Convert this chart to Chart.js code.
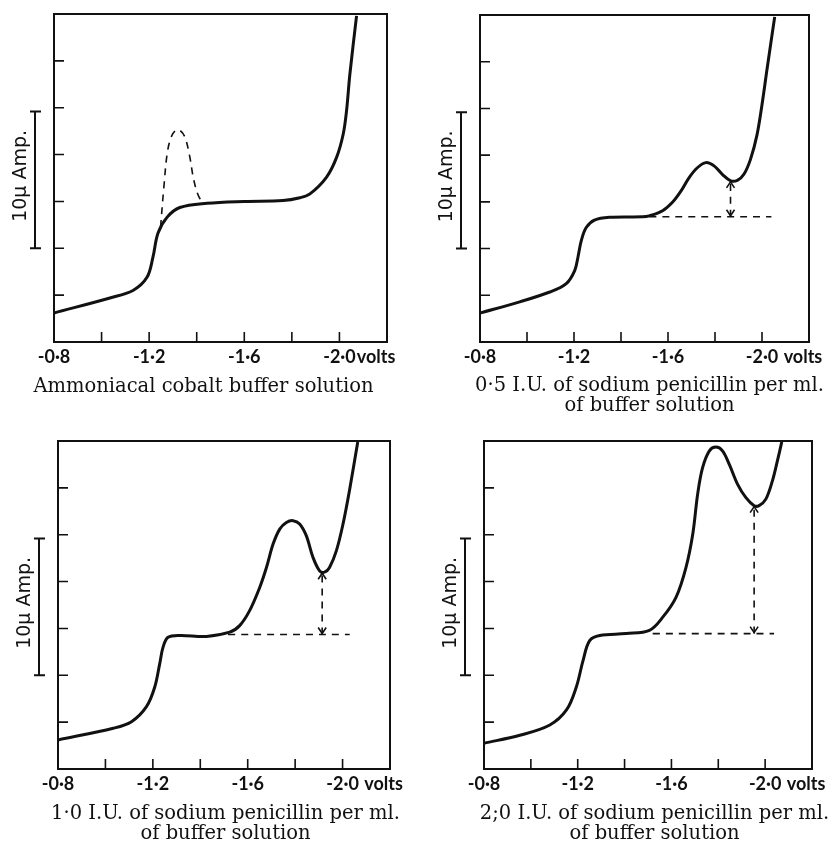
<!DOCTYPE html>
<html lang="en">

<head>
    <meta charset="UTF-8">
    <title>Polarogramas | penicilina</title>
    <script src="https://cdn.jsdelivr.net/npm/chart.js"></script>
    <style>
        body { margin: 0; background: #fff; }
        .janela { position: relative; width: 830px; height: 843px; overflow: hidden; }
        canvas { position: absolute; }
        .legenda {
            position: absolute; width: 415px; text-align: center; color: #111;
            font-family: 'DejaVu Serif', serif; font-size: 19.5px; line-height: 20px;
        }
    </style>
</head>

<body>
    <div class="janela">
        <canvas id="grafico1" width="415" height="375" style="left:0px;top:0px"></canvas>
        <canvas id="grafico2" width="415" height="375" style="left:415px;top:0px"></canvas>
        <canvas id="grafico3" width="415" height="402" style="left:0px;top:400px"></canvas>
        <canvas id="grafico4" width="415" height="402" style="left:415px;top:400px"></canvas>

        <div class="legenda" style="left:-4px;top:376px">Ammoniacal cobalt buffer solution</div>
        <div class="legenda" style="left:442px;top:375px">0·5 I.U. of sodium penicillin per ml.<br>of buffer solution</div>
        <div class="legenda" style="left:18px;top:803px">1·0 I.U. of sodium penicillin per ml.<br>of buffer solution</div>
        <div class="legenda" style="left:447px;top:803px">2;0 I.U. of sodium penicillin per ml.<br>of buffer solution</div>
    </div>
</body>

</html>

<script>
    // eixos (volts em módulo, corrente em divisões da escala)
    const ticksX = [1.0, 1.2, 1.4, 1.6, 1.8, 2.0];
    const ticksY = [1, 2, 3, 4, 5, 6];
    const rotulosX = { 8: '-0·8', 12: '-1·2', 16: '-1·6', 20: '-2·0' };
    const barraEscala = [2, 4.92];   // 10 µA

    // painel 1 - solução tampão de cobalto
    const volts1 = [0.80, 1.035, 1.132, 1.191, 1.216, 1.237, 1.275, 1.329, 1.443, 1.60, 1.763, 1.834, 1.876, 1.946, 1.988, 2.016, 2.03, 2.044, 2.072];
    const amp1 = [0.62, 0.94, 1.10, 1.38, 1.81, 2.32, 2.66, 2.87, 2.96, 3.00, 3.02, 3.08, 3.16, 3.52, 3.94, 4.44, 4.94, 5.72, 6.96];
    const voltsPico1 = [1.248, 1.262, 1.278, 1.299, 1.322, 1.348, 1.369, 1.388, 1.411, 1.434];
    const ampPico1 = [2.45, 3.31, 4.09, 4.44, 4.53, 4.40, 4.00, 3.45, 3.08, 2.98];

    // painel 2 - 0,5 U.I.
    const volts2 = [0.80, 0.969, 1.097, 1.167, 1.203, 1.217, 1.231, 1.252, 1.287, 1.351, 1.492, 1.520, 1.577, 1.619, 1.655, 1.69, 1.725, 1.761, 1.796, 1.831, 1.867, 1.895, 1.923, 1.951, 1.979, 2.0, 2.022, 2.054];
    const amp2 = [0.62, 0.86, 1.07, 1.25, 1.53, 1.82, 2.17, 2.45, 2.61, 2.67, 2.68, 2.70, 2.81, 2.99, 3.23, 3.52, 3.73, 3.84, 3.77, 3.59, 3.45, 3.46, 3.59, 3.91, 4.44, 5.08, 5.86, 6.96];
    const baseVolts2 = [1.52, 2.04];
    const baseAmp2 = [2.68, 2.68];
    const setaVolts2 = [1.866, 1.866];
    const setaAmp2 = [2.68, 3.45];

    // painel 3 - 1,0 U.I.
    const volts3 = [0.80, 1.033, 1.11, 1.173, 1.208, 1.229, 1.243, 1.264, 1.314, 1.426, 1.524, 1.566, 1.608, 1.651, 1.679, 1.707, 1.735, 1.763, 1.791, 1.819, 1.847, 1.875, 1.903, 1.924, 1.945, 1.974, 2.002, 2.029, 2.064];
    const amp3 = [0.62, 0.87, 1.01, 1.33, 1.75, 2.25, 2.60, 2.81, 2.85, 2.83, 2.92, 3.06, 3.38, 3.88, 4.30, 4.80, 5.12, 5.26, 5.30, 5.23, 4.98, 4.52, 4.23, 4.20, 4.30, 4.66, 5.23, 5.94, 6.98];
    const baseVolts3 = [1.517, 2.03];
    const baseAmp3 = [2.87, 2.87];
    const setaVolts3 = [1.914, 1.914];
    const setaAmp3 = [2.87, 4.20];

    // painel 4 - 2,0 U.I.
    const volts4 = [0.80, 0.953, 1.081, 1.152, 1.194, 1.223, 1.251, 1.294, 1.407, 1.506, 1.563, 1.62, 1.662, 1.691, 1.712, 1.733, 1.762, 1.79, 1.818, 1.847, 1.882, 1.918, 1.953, 1.974, 2.003, 2.031, 2.052, 2.071];
    const amp4 = [0.55, 0.72, 0.94, 1.26, 1.75, 2.32, 2.74, 2.85, 2.89, 2.96, 3.24, 3.67, 4.30, 5.01, 5.87, 6.43, 6.79, 6.87, 6.79, 6.50, 6.08, 5.79, 5.62, 5.62, 5.76, 6.15, 6.57, 6.98];
    const baseVolts4 = [1.52, 2.038];
    const baseAmp4 = [2.89, 2.89];
    const setaVolts4 = [1.953, 1.953];
    const setaAmp4 = [2.89, 5.62];

    const corTinta = '#111';
    const fonteEixo = 'Lato, "DejaVu Sans", sans-serif';
    const tamanhoRotulo = 18;
    const paddingRotulo = 4;

    function juntar(xs, ys) {
        return xs.map(function (x, i) { return { x: x, y: ys[i] }; });
    }

    // moldura, marcas internas, barra de 10 µA, "volts" e pontas de seta
    const pluginMoldura = {
        id: 'moldura',
        afterDraw(chart, args, opts) {
            const ctx = chart.ctx;
            const a = chart.chartArea;
            const sx = chart.scales.x;
            const sy = chart.scales.y;
            ctx.save();
            ctx.strokeStyle = corTinta;
            ctx.fillStyle = corTinta;

            ctx.lineWidth = 2;
            ctx.strokeRect(a.left, a.top, a.right - a.left, a.bottom - a.top);

            ctx.lineWidth = 1.6;
            ctx.beginPath();
            ticksX.forEach(function (v) {
                const px = sx.getPixelForValue(v);
                ctx.moveTo(px, a.bottom);
                ctx.lineTo(px, a.bottom - 10);
            });
            ticksY.forEach(function (v) {
                const py = sy.getPixelForValue(v);
                ctx.moveTo(a.left, py);
                ctx.lineTo(a.left + 10, py);
            });
            ctx.stroke();

            // barra de escala
            const xb = a.left - 19;
            const yb0 = sy.getPixelForValue(barraEscala[0]);
            const yb1 = sy.getPixelForValue(barraEscala[1]);
            ctx.lineWidth = 2;
            ctx.beginPath();
            ctx.moveTo(xb, yb0); ctx.lineTo(xb, yb1);
            ctx.moveTo(xb - 5, yb0); ctx.lineTo(xb + 6, yb0);
            ctx.moveTo(xb - 5, yb1); ctx.lineTo(xb + 6, yb1);
            ctx.stroke();

            ctx.save();
            ctx.translate(a.left - 33, (yb0 + yb1) / 2 - 4);
            ctx.rotate(-Math.PI / 2);
            ctx.font = '19px "DejaVu Sans", sans-serif';
            ctx.textAlign = 'center';
            ctx.textBaseline = 'middle';
            ctx.fillText('10μ Amp.', 0, 0);
            ctx.restore();

            // "volts" ao lado do -2·0
            ctx.font = 'bold ' + tamanhoRotulo + 'px ' + fonteEixo;
            ctx.textBaseline = 'middle';
            ctx.textAlign = 'left';
            const x20 = sx.getPixelForValue(2.0);
            const w20 = ctx.measureText('-2·0').width;
            ctx.fillText(opts.juntoVolts ? 'volts' : ' volts', x20 + w20 / 2 + 1, a.bottom + paddingRotulo + tamanhoRotulo * 1.2 / 2);

            // pontas de seta
            if (opts.setaX) {
                const px = sx.getPixelForValue(opts.setaX[0]);
                const pBaixo = sy.getPixelForValue(opts.setaY[0]);
                const pCima = sy.getPixelForValue(opts.setaY[1]);
                ctx.lineWidth = 1.6;
                ctx.beginPath();
                ctx.moveTo(px - 4, pCima + 7); ctx.lineTo(px, pCima + 1); ctx.lineTo(px + 4, pCima + 7);
                ctx.moveTo(px - 4, pBaixo - 7); ctx.lineTo(px, pBaixo - 1); ctx.lineTo(px + 4, pBaixo - 7);
                ctx.stroke();
            }
            ctx.restore();
        }
    };

    function plotarPainel(idCanvas, volts, amp, extras, padding, opcoesMoldura) {
        const datasets = [{
            data: juntar(volts, amp),
            borderColor: corTinta,
            borderWidth: 3,
            pointRadius: 0,
            fill: false,
            tension: 0.35
        }];

        extras.forEach(function (e) {
            datasets.push({
                data: juntar(e[0], e[1]),
                borderColor: corTinta,
                borderWidth: 1.6,
                borderDash: [7, 6],
                pointRadius: 0,
                fill: false,
                tension: 0.35
            });
        });

        const config = {
            type: 'line',
            data: { datasets: datasets },
            plugins: [pluginMoldura],
            options: {
                responsive: false,
                animation: false,
                layout: { padding: padding },
                plugins: {
                    legend: { display: false },
                    tooltip: { enabled: false },
                    moldura: opcoesMoldura
                },
                scales: {
                    x: {
                        type: 'linear',
                        min: 0.8,
                        max: 2.2,
                        afterFit: function (s) { s.height = 33; },
                        grid: { display: false, drawTicks: false },
                        border: { display: false },
                        ticks: {
                            stepSize: 0.2,
                            autoSkip: false,
                            maxRotation: 0,
                            padding: paddingRotulo,
                            color: corTinta,
                            font: { family: fonteEixo, size: tamanhoRotulo, weight: 'bold' },
                            callback: function (v) {
                                return rotulosX[Math.round(v * 10)] || '';
                            }
                        }
                    },
                    y: {
                        type: 'linear',
                        min: 0,
                        max: 7,
                        display: false
                    }
                }
            }
        };

        let meuGrafico = new Chart(document.getElementById(idCanvas), config);
    }

    plotarPainel('grafico1', volts1, amp1, [[voltsPico1, ampPico1]],
        { left: 54, top: 14, right: 28, bottom: 0 }, { juntoVolts: true });
    plotarPainel('grafico2', volts2, amp2, [[baseVolts2, baseAmp2], [setaVolts2, setaAmp2]],
        { left: 65, top: 15, right: 21, bottom: 0 }, { setaX: setaVolts2, setaY: setaAmp2 });
    plotarPainel('grafico3', volts3, amp3, [[baseVolts3, baseAmp3], [setaVolts3, setaAmp3]],
        { left: 58, top: 41, right: 25, bottom: 0 }, { setaX: setaVolts3, setaY: setaAmp3 });
    plotarPainel('grafico4', volts4, amp4, [[baseVolts4, baseAmp4], [setaVolts4, setaAmp4]],
        { left: 69, top: 41, right: 18, bottom: 0 }, { setaX: setaVolts4, setaY: setaAmp4 });
</script>
